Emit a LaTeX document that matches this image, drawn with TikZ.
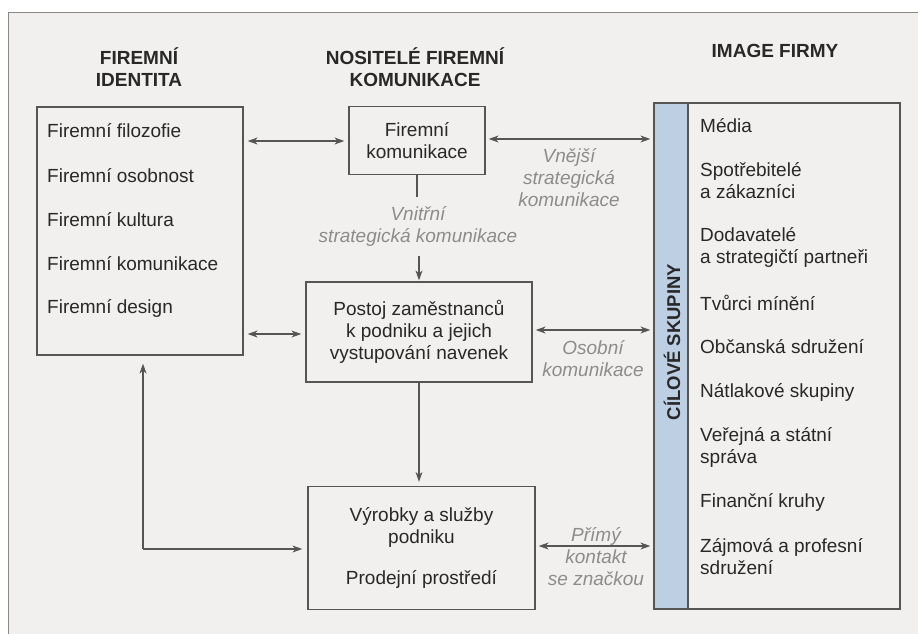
\documentclass[tikz,border=0pt]{standalone}
\usepackage{fontspec}
\setmainfont{Liberation Sans}
\usetikzlibrary{arrows.meta}
\definecolor{bg}{RGB}{241,240,238}
\definecolor{ln}{RGB}{85,85,85}
\definecolor{lbl}{RGB}{140,140,140}
\definecolor{stripc}{RGB}{188,207,227}
\definecolor{txt}{RGB}{40,40,40}
\begin{document}
\begin{tikzpicture}[x=1pt,y=-1pt,
  box/.style={draw=ln,line width=1.3pt,inner sep=0pt},
  txtf/.style={text=txt,font=\fontsize{19}{22}\selectfont,inner sep=0pt},
  item/.style={txtf,anchor=west,align=left},
  head/.style={text=txt,font=\fontsize{19}{22}\selectfont\bfseries,inner sep=0pt,align=center},
  lab/.style={text=lbl,font=\fontsize{19}{22}\selectfont\itshape,inner sep=0pt,align=center},
  conn/.style={draw=ln,line width=1.2pt},
  tip/.style={Stealth[length=10pt,width=7pt]},
  biarrow/.style={conn,{Stealth[length=10pt,width=7pt]}-{Stealth[length=10pt,width=7pt]}},
  onearrow/.style={conn,-{Stealth[length=10pt,width=7pt]}}]
\useasboundingbox (0,0) rectangle (918,634);
\fill[bg] (8,13) rectangle (918,634);
\draw[ln!70,line width=1pt] (8,634) -- (8,13) -- (918,13);

% headings
\node[head] (h1) at (139,67) {FIREMNÍ\\IDENTITA};
\node[head] (h2) at (415,67) {NOSITELÉ FIREMNÍ\\KOMUNIKACE};
\node[head] (h3) at (775,51) {IMAGE FIRMY};

% left box
\node[box,minimum width=206pt,minimum height=248pt] (ident) at (140,231) {};
\node[item] (i1) at (47,131) {Firemní filozofie};
\node[item] (i2) at (47,176) {Firemní osobnost};
\node[item] (i3) at (47,220) {Firemní kultura};
\node[item] (i4) at (47,264) {Firemní komunikace};
\node[item] (i5) at (47,308) {Firemní design};

% middle boxes
\node[box,txtf,align=center,minimum width=136pt,minimum height=68pt] (fk) at (417,140.5) {Firemní\\komunikace};
\node[box,txtf,align=center,minimum width=226pt,minimum height=100pt] (postoj) at (419,332) {Postoj zaměstnanců\\k podniku a jejich\\vystupování navenek};
\node[box,minimum width=227pt,minimum height=123pt] (vyr) at (421.5,548) {};
\node[txtf,align=center] (vyr1) at (421.5,527) {Výrobky a služby\\podniku};
\node[txtf] (vyr2) at (421.5,579) {Prodejní prostředí};

% right box
\node[box,minimum width=246pt,minimum height=506pt] (target) at (777,356) {};
\node[box,fill=stripc,minimum width=34pt,minimum height=506pt] (strip) at (671,356) {};
\node[text=txt,font=\fontsize{18.5}{22}\selectfont\bfseries,inner sep=0pt,rotate=90] (cs) at (672,342) {CÍLOVÉ SKUPINY};
\node[item] (r1) at (700,126) {Média};
\node[item] (r2) at (700,181) {Spotřebitelé\\a zákazníci};
\node[item] (r3) at (700,247) {Dodavatelé\\a strategičtí partneři};
\node[item] (r4) at (700,303) {Tvůrci mínění};
\node[item] (r5) at (700,347) {Občanská sdružení};
\node[item] (r6) at (700,392) {Nátlakové skupiny};
\node[item] (r7) at (700,447) {Veřejná a státní\\správa};
\node[item] (r8) at (700,502) {Finanční kruhy};
\node[item] (r9) at (700,557) {Zájmová a profesní\\sdružení};

% labels
\node[lab] (l1) at (418,226) {Vnitřní\\strategická komunikace};
\node[lab] (l2) at (569,178) {Vnější\\strategická\\komunikace};
\node[lab] (l3) at (593,359) {Osobní\\komunikace};
\node[lab] (l4) at (596,557) {Přímý\\kontakt\\se značkou};

% helper coordinates
\coordinate (fkdown) at ([yshift=-22pt]fk.south);
\coordinate (pin) at ([yshift=25pt]postoj.north);
\coordinate (ptip) at ([yshift=1pt]postoj.north);
\coordinate (vtip) at ([yshift=4pt]vyr.north -| postoj.south);
\coordinate (itip) at ([yshift=-8pt]ident.south);
\coordinate (corner) at (143,549);

% connectors
\draw[biarrow] ([xshift=4pt]ident.east |- 0,141) coordinate (a1) -- ([xshift=-4pt]fk.west |- a1);
\draw[biarrow] ([xshift=3pt]fk.east |- 0,139) coordinate (a2) -- ([xshift=-3pt]target.west |- a2);
\draw[conn] (fk.south) -- (fkdown);
\draw[onearrow] (pin) -- (ptip);
\draw[biarrow] ([xshift=4pt]ident.east |- 0,334) coordinate (a3) -- ([xshift=-4pt]postoj.west |- a3);
\draw[biarrow] ([xshift=3pt]postoj.east |- 0,330) coordinate (a4) -- ([xshift=-3pt]target.west |- a4);
\draw[onearrow] (postoj.south) -- (vtip);
\draw[onearrow] (corner) -- (corner |- itip);
\draw[onearrow] (corner) -- ([xshift=-5pt]vyr.west |- corner);
\draw[biarrow] ([xshift=3pt]vyr.east |- 0,546) coordinate (a5) -- ([xshift=-3pt]target.west |- a5);
\end{tikzpicture}
\end{document}
